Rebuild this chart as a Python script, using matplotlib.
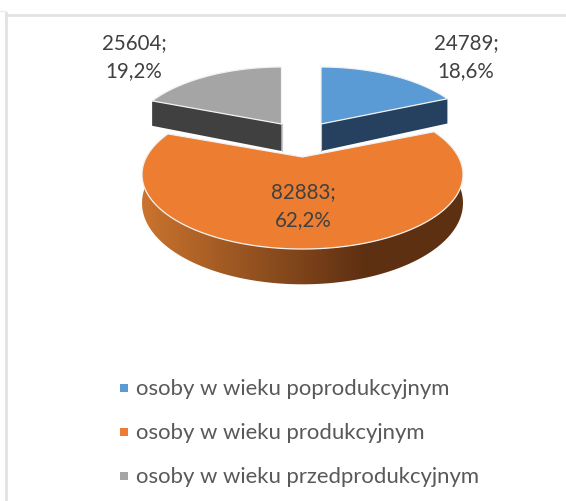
import numpy as np
import matplotlib
matplotlib.use("Agg")
import matplotlib.pyplot as plt
from matplotlib.colors import LinearSegmentedColormap
from matplotlib.patches import Polygon

categories = ["osoby w wieku poprodukcyjnym", "osoby w wieku produkcyjnym", "osoby w wieku przedprodukcyjnym"]
values = [24789, 82883, 25604]
percent_labels = ["18,6%", "62,2%", "19,2%"]
top_colors = ["#5B9BD5", "#ED7D31", "#A5A5A5"]
side_colors = ["#264060", None, "#404040"]

plt.rcParams["font.family"] = ["Lato", "DejaVu Sans"]
fig = plt.figure(figsize=(5.66, 5.02), dpi=100)
ax = fig.add_axes([0, 0, 1, 1])
ax.set_xlim(0, 566)
ax.set_ylim(502, 0)
ax.axis("off")

# chart frame
frame = "#E2E2E2"
ax.plot([6, 6], [14, 502], color=frame, lw=2.0, zorder=1)
ax.plot([6, 566], [16, 16], color=frame, lw=2.0, zorder=1)
ax.plot([0, 6], [12, 12], color="#EEEEEE", lw=1.0, zorder=1)

P = 0.235      # perspective strength
A = 70.4       # vertical scale
DEPTH = 27.0   # thickness


def project(theta, cx, cy, R):
    X, Y = np.sin(theta), -np.cos(theta)
    s = 1 / (1 - P * Y)
    return cx + R * X * s, cy + A * Y * s, s


fractions = np.array(values) / sum(values)
edges = np.concatenate([[0], np.cumsum(fractions)]) * 2 * np.pi
centers = [(321, 125, 150), (302.5, 158, 156), (281.5, 125, 150)]
z = 2
draw_order = [0, 2, 1]
for i in draw_order:
    cx, cy, R = centers[i]
    t = np.linspace(edges[i], edges[i + 1], 200)
    x, y, s = project(t, cx, cy, R)
    if i == 1:
        lowx, lowy = x, y + DEPTH * s
        poly = Polygon(np.column_stack([np.r_[x, lowx[::-1]], np.r_[y, lowy[::-1]]]),
                       closed=True, fc="none", ec="none", zorder=z)
        ax.add_patch(poly)
        cmap = LinearSegmentedColormap.from_list(
            "side", [(0, "#CB742E"), (0.68, "#5E3012"), (1, "#5E3012")])
        im = ax.imshow(np.linspace(0, 1, 256)[None, :], extent=(140, 470, 300, 120),
                       cmap=cmap, aspect="auto", zorder=z)
        im.set_clip_path(poly)
        ax.set_xlim(0, 566)
        ax.set_ylim(502, 0)
    else:
        # visible radial cut face
        ex, ey = (x[-1], y[-1]) if i == 0 else (x[0], y[0])
        es = s[-1] if i == 0 else s[0]
        face = [(cx, cy), (ex, ey), (ex, ey + DEPTH * es), (cx, cy + DEPTH)]
        ax.add_patch(Polygon(face, closed=True, fc=side_colors[i], ec="none", zorder=z))
        # inner thin edge
        ax.plot([cx, cx], [cy, cy + DEPTH], color="#C8C8C8", lw=0.8, zorder=z + 0.1)
    top = np.column_stack([np.r_[cx, x], np.r_[cy, y]])
    ax.add_patch(Polygon(top, closed=True, fc=top_colors[i], ec="#F2F2F2", lw=0.9,
                         joinstyle="round", zorder=z + 0.2))
    z += 1

label_pos = [(466, 57), (303, 206), (134, 57)]
for v, p, (lx, ly) in zip(values, percent_labels, label_pos):
    ax.text(lx, ly, f"{v};\n{p}", ha="center", va="center", fontsize=14.8,
            color="#404040", linespacing=1.55, zorder=10)

legend_y = [389, 433, 477]
for name, color, ly in zip(categories, top_colors, legend_y):
    ax.scatter([123.5], [ly], marker="s", s=32, color=color, lw=0, zorder=10)
    ax.text(136, ly, name, ha="left", va="center", fontsize=15.9, color="#595959", zorder=10)

fig.savefig("out.png", dpi=100)
